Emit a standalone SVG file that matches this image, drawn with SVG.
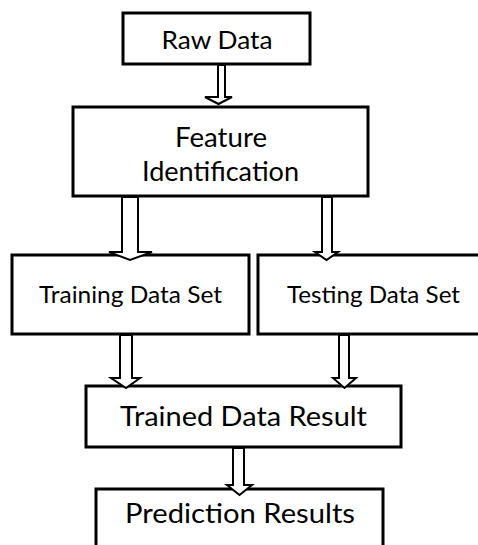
<svg xmlns="http://www.w3.org/2000/svg" width="478" height="545" viewBox="0 0 478 545">
<style>
.box{fill:#fff;stroke:#000;stroke-width:3}
.lbl{font-family:Lato,"Liberation Sans",sans-serif;fill:#000;text-anchor:middle}
.arr{fill:#fff;stroke:#000;stroke-width:2;stroke-linejoin:miter}
</style>
<rect width="478" height="545" fill="#fff"/>
<g id="raw-data">
<rect class="box" x="123" y="13" width="187" height="51"/>
<text class="lbl" x="217" y="49" font-size="25" textLength="111" lengthAdjust="spacingAndGlyphs">Raw Data</text>
</g>
<g id="feature-identification">
<rect class="box" x="73" y="107" width="295" height="89"/>
<text class="lbl" x="221" y="147" font-size="27" textLength="92" lengthAdjust="spacingAndGlyphs">Feature</text>
<text class="lbl" x="220.5" y="181" font-size="27" textLength="157" lengthAdjust="spacingAndGlyphs">Identification</text>
</g>
<g id="training-data-set">
<rect class="box" x="12" y="255" width="237" height="79"/>
<text class="lbl" x="130.5" y="303" font-size="23" textLength="183" lengthAdjust="spacingAndGlyphs">Training Data Set</text>
</g>
<g id="testing-data-set">
<rect class="box" x="258" y="255" width="225" height="79"/>
<text class="lbl" x="373.5" y="303" font-size="23" textLength="173" lengthAdjust="spacingAndGlyphs">Testing Data Set</text>
</g>
<g id="trained-data-result">
<rect class="box" x="86" y="386" width="315" height="61"/>
<text class="lbl" x="243.5" y="426" font-size="27" textLength="247" lengthAdjust="spacingAndGlyphs">Trained Data Result</text>
</g>
<g id="prediction-results">
<rect class="box" x="96" y="489" width="287" height="70"/>
<text class="lbl" x="240" y="523" font-size="27" textLength="230" lengthAdjust="spacingAndGlyphs">Prediction Results</text>
</g>
<g id="connectors">
<path class="arr" d="M218,65 L225,65 L225,97 L232,97 L218.5,104 L205,97 L218,97 Z"/>
<path class="arr" d="M122,197 L138,197 L138,252 L152,252 L130,260 L109,252 L122,252 Z"/>
<path class="arr" d="M322,197 L332,197 L332,252 L338,252 L326.5,260 L315,252 L322,252 Z"/>
<path class="arr" d="M120,335 L132,335 L132,378 L140,378 L126,388 L111,378 L120,378 Z"/>
<path class="arr" d="M339,335 L349,335 L349,378 L356,378 L344.5,388 L333,378 L339,378 Z"/>
<path class="arr" d="M233,448 L244,448 L244,485 L252,485 L239.5,495 L227,485 L233,485 Z"/>
</g>
</svg>
